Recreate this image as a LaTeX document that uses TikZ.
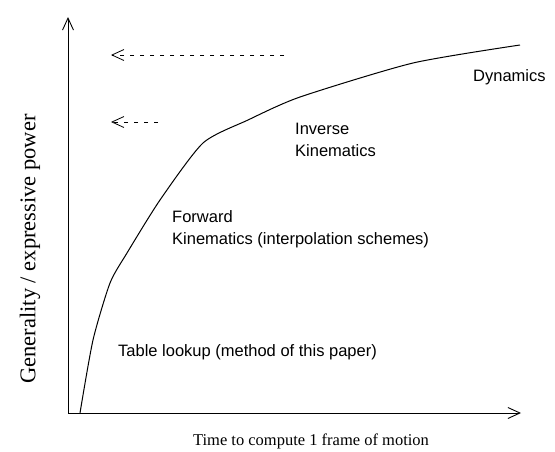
\documentclass[tikz,border=0pt]{standalone}
\usepackage{fontspec}
\setmainfont{Liberation Serif}
\newfontfamily\labelfont{Liberation Sans}
\usetikzlibrary{arrows.meta, positioning}
\tikzset{
axis/.style={draw, line width=0.9pt, -{Straight Barb[length=12pt, width=11pt]}}, % open axis heads
limit/.style={draw, line width=0.8pt, dash pattern=on 4pt off 6pt, -{Straight Barb[length=12pt, width=11pt]}},
region/.style={font=\labelfont\fontsize{16.5}{22}\selectfont, align=left, anchor=west, inner sep=0pt},
axis label/.style={font=\fontsize{16.5}{20}\selectfont, inner sep=0pt},
}

\begin{document}
\begin{tikzpicture}[x=1pt, y=-1pt]
\useasboundingbox (0,0) rectangle (555,451);

\coordinate (origin) at (68,413);
\coordinate (ytop) at (68,17);
\coordinate (xend) at (521,413);

\draw[axis] (origin) -- (ytop);
\draw[axis] (origin) -- (xend);

% cost vs. generality curve
\draw[line width=1pt] plot[smooth, tension=0.4] coordinates {
(80,413) (93,340) (110,283) (127,253) (160,200) (203,143)
(248,120) (300,97) (413,63) (520,45)};

\coordinate (dyn tail) at (284,55);
\coordinate (dyn head) at (111,55);
\coordinate (ik tail) at (158,122);
\coordinate (ik head) at (111,122);
\draw[limit] (dyn tail) -- (dyn head);
\draw[limit] (ik tail) -- (ik head);

\node[region] (dyn) at (473,77) {Dynamics};
\node[region] (ik) at (295,140) {Inverse\\Kinematics};
\node[region] (fk) at (172,229) {Forward\\Kinematics (interpolation schemes)};
\node[region] (table) at (118,352) {Table lookup (method of this paper)};

\node[axis label] (xlabel) at (311,441) {Time to compute 1 frame of motion};
\node[axis label, font=\fontsize{22.5}{26}\selectfont, rotate=90] (ylabel) at (30,249) {Generality / expressive power};

\end{tikzpicture}
\end{document}
